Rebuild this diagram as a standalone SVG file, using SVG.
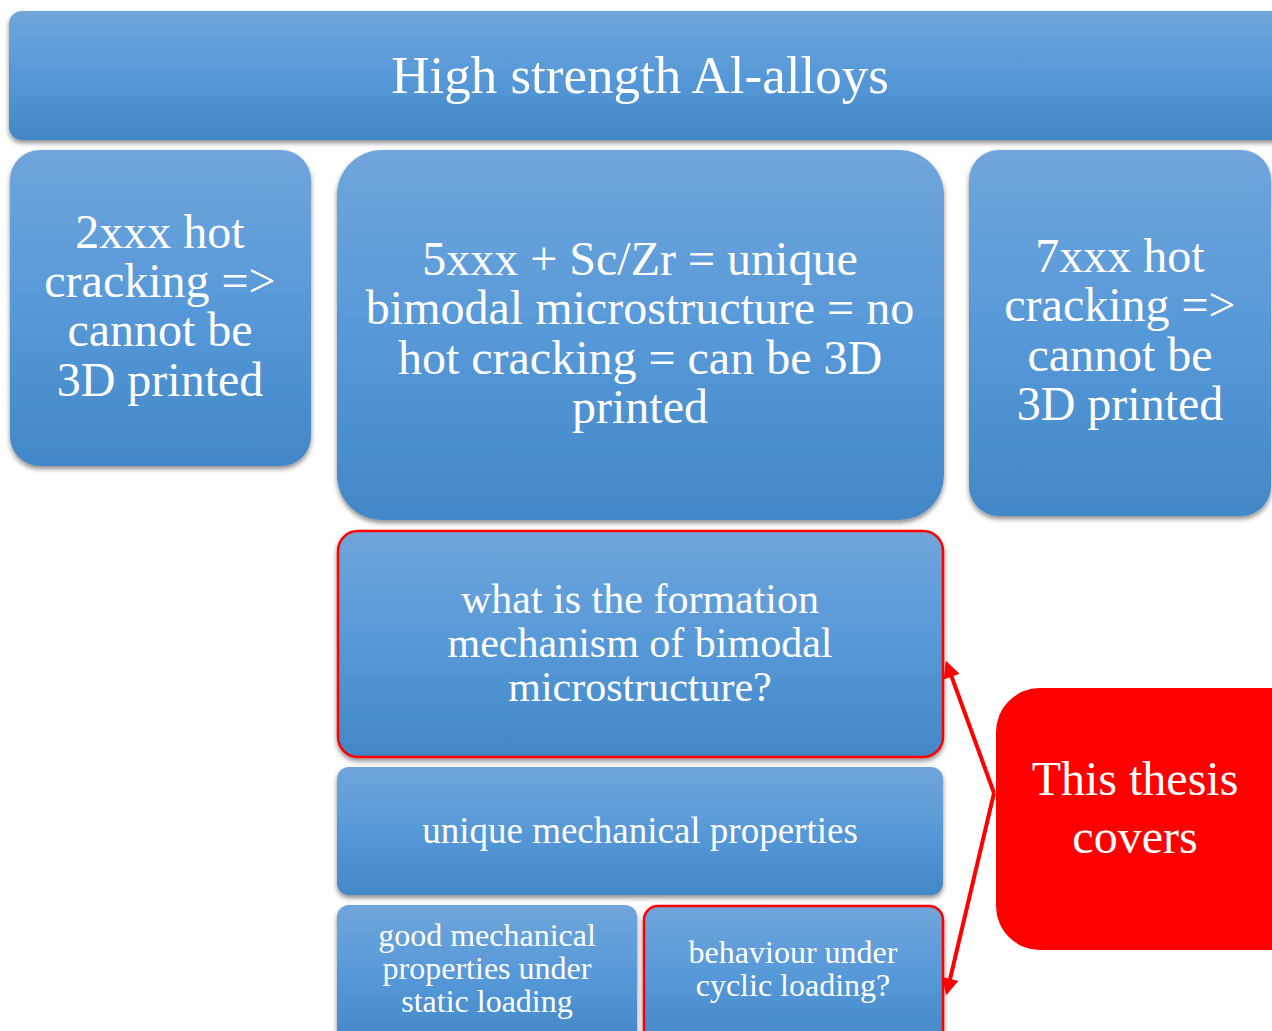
<svg xmlns="http://www.w3.org/2000/svg" width="1272" height="1031" viewBox="0 0 1272 1031">
<defs>
<linearGradient id="blue" x1="0" y1="0" x2="0" y2="1">
<stop offset="0" stop-color="#70a5db"/>
<stop offset="0.5" stop-color="#5799d8"/>
<stop offset="1" stop-color="#4287c7"/>
</linearGradient>
<filter id="sh" x="-10%" y="-10%" width="120%" height="130%">
<feDropShadow dx="0" dy="3" stdDeviation="2.5" flood-color="#000" flood-opacity="0.45"/>
</filter>
<marker id="ah" viewBox="0 0 10 10" refX="8" refY="5" markerWidth="4.5" markerHeight="4.2" orient="auto-start-reverse">
<path d="M0,0 L10,5 L0,10 z" fill="#ff0000"/>
</marker>
</defs>
<style>
.b{fill:url(#blue);filter:url(#sh)}
.rb{fill:url(#blue);stroke:#ff0000;stroke-width:2.5;filter:url(#sh)}
.t{font-family:'Liberation Serif','DejaVu Serif',serif;fill:#ffffff;text-anchor:middle}
</style>
<g id="title">
<rect class="b" x="9" y="11" width="1275" height="129" rx="13"/>
<text class="t" x="640" y="93" font-size="53">High strength Al-alloys</text>
</g>
<g id="n2xxx">
<rect class="b" x="10" y="150" width="301" height="316" rx="30"/>
<text class="t" font-size="48"><tspan x="160" y="248">2xxx hot</tspan><tspan x="160" y="297">cracking =&gt;</tspan><tspan x="160" y="346">cannot be</tspan><tspan x="160" y="396">3D printed</tspan></text>
</g>
<g id="n5xxx">
<rect class="b" x="337" y="150" width="607" height="370" rx="45"/>
<text class="t" font-size="48"><tspan x="640" y="275">5xxx + Sc/Zr = unique</tspan><tspan x="640" y="324">bimodal microstructure = no</tspan><tspan x="640" y="374">hot cracking = can be 3D</tspan><tspan x="640" y="423">printed</tspan></text>
</g>
<g id="n7xxx">
<rect class="b" x="969" y="150" width="302" height="366" rx="30"/>
<text class="t" font-size="48"><tspan x="1120" y="272">7xxx hot</tspan><tspan x="1120" y="321">cracking =&gt;</tspan><tspan x="1120" y="371">cannot be</tspan><tspan x="1120" y="420">3D printed</tspan></text>
</g>
<g id="formation">
<rect class="rb" x="338" y="531" width="605" height="226" rx="20"/>
<text class="t" font-size="42"><tspan x="640" y="613">what is the formation</tspan><tspan x="640" y="657">mechanism of bimodal</tspan><tspan x="640" y="701">microstructure?</tspan></text>
</g>
<g id="unique">
<rect class="b" x="337" y="767" width="606" height="128" rx="12"/>
<text class="t" font-size="37" x="640" y="843">unique mechanical properties</text>
</g>
<g id="static">
<rect class="b" x="337" y="905" width="300" height="140" rx="12"/>
<text class="t" font-size="32"><tspan x="487" y="946">good mechanical</tspan><tspan x="487" y="979">properties under</tspan><tspan x="487" y="1012">static loading</tspan></text>
</g>
<g id="cyclic">
<rect class="rb" x="644" y="906" width="299" height="140" rx="14"/>
<text class="t" font-size="32"><tspan x="793" y="963">behaviour under</tspan><tspan x="793" y="996">cyclic loading?</tspan></text>
</g>
<g id="thesis">
<rect x="996" y="688" width="320" height="262" rx="44" fill="#ff0000"/>
<text class="t" font-size="48"><tspan x="1135" y="795">This thesis</tspan><tspan x="1135" y="853">covers</tspan></text>
</g>
<g id="connectors" stroke="#ff0000" stroke-width="4" fill="none">
<line x1="994" y1="793" x2="947" y2="664" marker-end="url(#ah)"/>
<line x1="994" y1="793" x2="947" y2="992" marker-end="url(#ah)"/>
</g>
</svg>
